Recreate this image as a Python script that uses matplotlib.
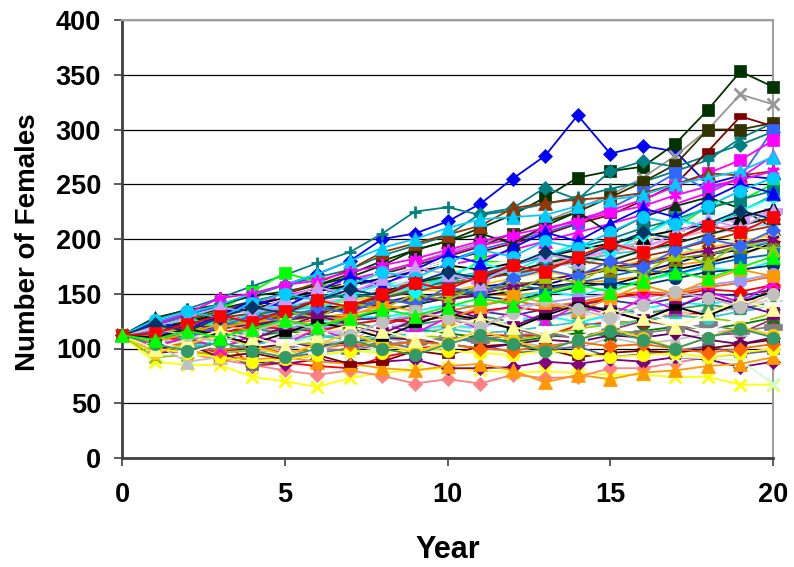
import matplotlib
matplotlib.use("Agg")
import matplotlib.pyplot as plt
from matplotlib.path import Path

years = list(range(21))

# simulated trajectories (number of females per year)
s01 = [112,124,132,138,150,158,168,180,200,205,216,232,255,276,313,278,285,280,250,258,255]
s02 = [112,121,128,136,143,150,158,168,180,190,198,210,222,238,256,262,266,287,318,353,339]
s03 = [112,118,124,131,140,146,152,160,170,178,188,196,205,216,228,240,256,276,300,332,323]
s04 = [112,126,136,146,157,167,178,188,205,225,229,222,226,232,238,246,252,262,272,292,306]
s05 = [112,122,130,140,148,158,165,172,185,194,203,223,228,247,236,262,271,266,276,286,298]
s06 = [112,118,125,131,138,146,154,160,168,176,184,193,205,215,225,238,252,268,300,300,306]
s07 = [112,117,124,130,136,142,150,158,164,172,180,188,196,204,214,222,235,250,280,312,303]
s08 = [112,116,122,128,134,142,150,156,164,172,180,190,198,206,215,228,243,260,245,256,300]
s09 = [112,118,122,130,140,148,155,163,170,178,186,194,200,208,218,226,236,248,260,272,290]
s10 = [112,115,120,126,132,140,146,152,160,168,176,182,190,198,206,214,222,232,242,256,276]
s11 = [112,120,125,135,152,169,161,148,158,162,163,180,178,183,172,190,195,210,230,235,250]
s12 = [112,128,135,140,148,152,158,165,176,190,198,205,196,212,225,205,220,230,238,228,210]
s13 = [112,118,126,134,142,150,160,172,188,196,204,212,228,233,236,238,242,250,260,258,262]
s14 = [112,124,132,140,150,158,168,180,192,200,210,218,220,222,230,236,240,250,256,262,275]
s15 = [112,110,114,118,124,130,136,140,148,156,160,165,170,178,186,194,204,220,210,225,240]
s16 = [112,108,112,118,124,126,128,132,136,140,146,150,148,152,160,162,166,176,180,185,196]
s17 = [112,114,120,128,136,146,150,160,166,172,180,158,164,170,178,186,192,196,202,208,220]
s18 = [112,116,118,120,132,136,140,136,150,156,155,148,152,156,160,158,166,172,178,186,196]
s19 = [112,115,122,126,132,138,144,150,156,160,168,162,170,176,182,190,198,206,214,218,226]
s20 = [112,114,118,122,126,130,140,158,170,166,172,176,180,182,186,196,200,206,205,198,202]
s21 = [112,106,103,96,103,110,118,114,121,130,129,125,118,112,110,117,125,121,112,114,127]
s22 = [112,105,114,110,84,87,84,82,92,98,108,112,112,111,121,124,124,132,132,138,156]
s23 = [112,88,85,85,74,70,65,73,78,80,82,80,78,79,78,76,76,74,74,67,67]
s24 = [112,100,95,90,85,80,76,80,75,68,72,68,76,73,74,82,82,87,92,95,100]
s25 = [112,96,98,92,88,86,90,86,88,90,82,82,83,88,86,90,88,92,90,83,88]
s26 = [112,95,92,96,100,98,94,96,100,102,104,98,100,96,94,96,98,92,91,89,68]
s27 = [112,102,98,94,90,92,88,86,82,80,84,86,80,69,76,72,78,80,84,86,92]
s28 = [112,92,94,96,98,102,106,104,108,112,110,106,108,112,118,122,126,130,128,124,132]
s29 = [112,104,88,92,96,100,104,108,110,104,108,112,106,102,100,110,104,108,114,118,112]
s30 = [112,108,104,98,83,92,96,100,106,100,112,104,96,98,102,92,95,98,102,95,98]
s31 = [112,110,104,92,96,90,94,86,88,98,94,102,104,100,92,96,98,96,100,104,108]
s32 = [112,112,118,122,126,132,130,138,142,148,150,156,160,158,166,172,170,178,186,190,198]
s33 = [112,110,114,118,122,118,124,130,128,134,140,138,146,152,148,156,162,168,174,170,180]
s34 = [112,114,116,114,120,126,130,128,134,140,146,148,144,150,156,160,158,164,170,172,176]
s35 = [112,116,124,120,128,134,138,144,152,158,164,170,166,174,180,186,190,194,186,192,198]
s36 = [112,112,108,114,118,122,126,130,124,130,134,140,144,138,142,148,152,150,156,160,166]
s37 = [112,110,112,116,112,118,122,126,128,124,130,134,130,136,140,144,140,146,150,148,154]
s38 = [112,104,106,108,112,110,114,118,112,116,120,118,124,128,126,130,134,130,136,140,144]
s39 = [112,100,102,98,100,104,102,106,110,108,104,100,104,108,106,112,110,114,108,104,110]
s40 = [112,108,110,114,116,112,118,114,120,124,120,126,122,128,132,128,134,136,132,138,142]
s41 = [112,116,120,124,128,134,132,138,144,142,148,152,158,154,160,166,172,168,176,182,186]
s42 = [112,118,124,130,128,136,142,146,150,156,162,168,172,176,182,188,194,200,208,214,218]
s43 = [112,114,120,126,130,136,140,146,150,154,158,164,170,174,178,182,188,196,204,210,214]
s44 = [112,118,114,120,126,130,134,138,142,146,150,154,158,162,168,172,176,182,186,194,200]
s45 = [112,110,106,104,110,116,112,108,114,118,114,110,106,110,114,112,116,120,118,122,128]
s46 = [112,120,126,122,130,136,140,144,148,154,152,158,164,170,166,174,180,186,192,198,204]
s47 = [112,118,122,128,134,140,146,150,156,164,170,174,180,188,192,198,206,212,220,226,232]
s48 = [112,106,108,112,116,120,118,122,126,130,134,132,138,142,146,150,146,152,158,162,168]
s49 = [112,110,106,102,108,104,100,98,104,106,110,108,112,114,110,116,114,118,122,116,120]
s50 = [112,122,132,146,150,158,162,170,176,182,190,198,204,210,216,224,230,240,248,254,262]
s51 = [112,106,110,104,108,112,116,110,114,118,122,126,120,124,128,132,128,134,138,142,146]
s52 = [112,118,124,132,140,146,152,158,164,170,176,172,178,184,190,196,202,208,214,220,228]
s53 = [112,114,112,118,122,126,132,136,140,146,144,150,156,162,168,174,178,184,190,196,200]
s54 = [112,120,124,130,136,144,150,146,152,160,166,162,170,178,184,180,190,196,204,212,220]
s55 = [112,116,122,128,132,126,134,140,146,152,158,164,168,174,180,176,184,190,198,206,212]
s56 = [112,104,100,108,112,106,110,114,120,116,122,118,126,130,124,130,136,142,140,146,150]
s57 = [112,110,108,114,120,118,116,122,126,124,130,134,138,134,140,146,150,148,154,152,158]
s58 = [112,108,104,100,104,108,112,108,110,114,118,114,116,120,124,120,126,130,128,134,138]
s59 = [112,100,96,92,88,90,94,98,96,100,98,96,94,98,96,92,94,96,92,96,100]
s60 = [112,116,118,124,130,136,144,150,146,154,162,168,176,184,192,200,210,218,228,236,244]
s61 = [112,106,102,98,102,96,100,104,102,106,104,100,98,102,106,102,104,100,96,100,104]
s62 = [112,114,108,112,118,114,120,124,118,122,126,130,124,128,134,138,132,136,140,136,142]
s63 = [112,120,114,126,122,134,128,142,136,150,144,158,150,166,160,176,168,186,178,196,190]
s64 = [112,102,110,100,112,104,118,108,122,114,128,118,134,124,140,130,146,136,152,142,160]
s65 = [112,118,128,120,132,142,136,148,160,152,166,178,170,184,196,188,204,218,210,226,238]
s66 = [112,108,96,104,114,106,98,110,120,112,104,116,128,118,110,122,134,124,116,128,140]
s67 = [112,124,118,130,144,138,152,166,158,172,186,178,192,206,198,214,228,220,236,250,242]
s68 = [112,114,124,116,108,120,130,122,114,126,136,128,120,132,142,134,126,138,148,140,132]
s69 = [112,96,104,112,102,94,104,114,104,96,106,116,108,98,108,118,110,100,110,120,112]
s70 = [112,116,110,120,130,124,138,132,146,140,156,150,164,172,166,180,174,190,200,194,208]
s71 = [112,120,128,138,132,146,156,150,164,174,168,160,176,186,180,196,190,206,218,210,226]
s72 = [112,106,114,122,116,126,120,130,140,134,126,138,148,142,134,146,158,150,162,172,166]
s73 = [112,110,118,112,104,114,124,118,110,122,132,126,118,130,140,134,126,138,130,142,152]
s74 = [112,126,134,128,142,150,144,158,170,164,178,190,184,198,192,206,220,214,230,244,256]
s75 = [112,100,108,116,110,102,112,122,116,108,118,128,120,112,124,136,128,120,132,144,136]
s76 = [112,118,112,106,116,124,118,112,124,134,128,120,132,144,136,128,140,152,146,138,150]
s77 = [112,122,116,128,138,132,144,154,148,160,170,164,176,188,182,194,206,200,214,226,218]
s78 = [112,104,98,106,98,92,100,108,100,94,104,112,104,98,108,116,108,100,110,118,110]
s79 = [112,114,122,130,124,134,144,138,150,160,154,166,176,170,184,196,188,200,212,206,220]
s80 = [112,108,116,110,118,126,120,128,136,130,138,146,140,150,158,152,162,170,164,174,184]

series = [s01, s02, s03, s04, s05, s06, s07, s08, s09, s10, s11, s12, s13, s14, s15, s16,
          s17, s18, s19, s20, s21, s22, s23, s24, s25, s26, s27, s28, s29, s30, s31, s32,
          s33, s34, s35, s36, s37, s38, s39, s40, s41, s42, s43, s44, s45, s46, s47, s48,
          s49, s50, s51, s52, s53, s54, s55, s56, s57, s58, s59, s60, s61, s62, s63, s64,
          s65, s66, s67, s68, s69, s70, s71, s72, s73, s74, s75, s76, s77, s78, s79, s80]

long_bar = Path([(-1, -0.32), (1, -0.32), (1, 0.32), (-1, 0.32), (-1, -0.32)],
                [Path.MOVETO, Path.LINETO, Path.LINETO, Path.LINETO, Path.CLOSEPOLY])
short_bar = Path([(-1, -0.5), (1, -0.5), (1, 0.5), (-1, 0.5), (-1, -0.5)],
                 [Path.MOVETO, Path.LINETO, Path.LINETO, Path.LINETO, Path.CLOSEPOLY])
star = (6, 2, 0)

styles = [
    ('#0000FF', 'D'), ('#003300', 's'), ('#969696', 'x'), ('#008080', '+'),
    ('#008080', 'D'), ('#333300', 's'), ('#800000', short_bar), ('#3366FF', 's'),
    ('#FF00FF', 's'), ('#FF00FF', '^'), ('#00FF00', 's'), ('#003300', '^'),
    ('#993300', '^'), ('#00CCFF', '^'), ('#339966', 's'), ('#FF9900', 'o'),
    ('#FFFFFF', long_bar), ('#000000', short_bar), ('#CC99FF', long_bar), ('#FFFF99', 'o'),
    ('#993366', 'o'), ('#FF0000', 'D'), ('#FFFF00', 'x'), ('#FF8080', 'D'),
    ('#800080', 'D'), ('#CCFFCC', 'x'), ('#FF9900', '^'), ('#99CC00', 'x'),
    ('#C0C0C0', '^'), ('#666699', short_bar), ('#800000', short_bar), ('#000080', 'D'),
    ('#00FFFF', 'x'), ('#003366', 'o'), ('#33CCCC', '^'), ('#FF6600', '+'),
    ('#333399', '+'), ('#FFCC99', 'o'), ('#660066', 'D'), ('#CCCCFF', long_bar),
    ('#0066CC', 's'), ('#FF99CC', star), ('#99CCFF', 'D'), ('#808000', '^'),
    ('#008000', 'x'), ('#FFCC00', 'x'), ('#CCFFFF', '+'), ('#9999FF', 'o'),
    ('#808080', long_bar), ('#FF00FF', star), ('#FFFFCC', 'o'), ('#000000', '^'),
    ('#800080', star), ('#003300', '^'), ('#993300', 'x'), ('#00FFFF', '+'),
    ('#FF0000', 'D'), ('#33CCCC', 'o'), ('#FFFF00', 'o'), ('#008080', 's'),
    ('#FF6600', 'D'), ('#339966', '^'), ('#99CC00', '^'), ('#FF00FF', 'x'),
    ('#00FFFF', 'D'), ('#FFFFFF', long_bar), ('#0000FF', '^'), ('#800080', 's'),
    ('#FFCC00', 'o'), ('#3366FF', 'D'), ('#CC99FF', '^'), ('#FF9900', 's'),
    ('#000000', short_bar), ('#00CCFF', 'o'), ('#FFFF99', '^'), ('#C0C0C0', 'o'),
    ('#003366', 'D'), ('#339966', 'o'), ('#FF0000', 's'), ('#00FF00', '^'),
]

msize = {'D': 7.5, 's': 8.5, '^': 9.5, 'o': 9, 'x': 8, '+': 9}

plt.rcParams['font.family'] = ['Liberation Sans', 'DejaVu Sans']
plt.rcParams['font.weight'] = 'bold'

fig = plt.figure(figsize=(7.94, 5.67), dpi=100)
ax = fig.add_axes([122/794, 1-458/567, (773-122)/794, (458-20)/567])

for vals, (col, mk) in zip(series, styles):
    if isinstance(mk, Path):
        ms = 13 if mk is long_bar else 9
        mew = 0.5
    elif isinstance(mk, tuple):
        ms, mew = 9, 1.8
    else:
        ms = msize[mk]
        mew = 2.0 if mk in ('x', '+') else 0.5
    ax.plot(years, vals, color=col, lw=1.3, marker=mk, markersize=ms,
            markerfacecolor=col, markeredgecolor=col, markeredgewidth=mew,
            clip_on=False, zorder=3)

ax.set_xlim(0, 20)
ax.set_ylim(0, 400)
ax.set_xticks([0, 5, 10, 15, 20])
ax.set_yticks(range(0, 401, 50))
ax.yaxis.grid(True, color='black', lw=0.9)
ax.set_axisbelow(True)
ax.tick_params(axis='both', direction='out', length=6, width=1.2, color='#404040',
               labelsize=19.5)
ax.tick_params(axis='y', pad=9)
ax.tick_params(axis='x', pad=11)
for lab in ax.get_xticklabels() + ax.get_yticklabels():
    lab.set_fontweight('bold')

ax.spines['left'].set_color('#404040')
ax.spines['left'].set_linewidth(2)
ax.spines['bottom'].set_color('#404040')
ax.spines['bottom'].set_linewidth(2)
ax.spines['top'].set_color('#A0A0A0')
ax.spines['top'].set_linewidth(1.5)
ax.spines['right'].set_color('#A0A0A0')
ax.spines['right'].set_linewidth(1.5)
for sp in ax.spines.values():
    sp.set_zorder(2.5)

fig.text(448/794, 1-550/567, 'Year', ha='center', va='center', fontsize=22, fontweight='bold')
fig.text(28/794, 1-242/567, 'Number of Females', ha='center', va='center', rotation=90,
         fontsize=20, fontweight='bold')

fig.savefig('out.png', dpi=100)
